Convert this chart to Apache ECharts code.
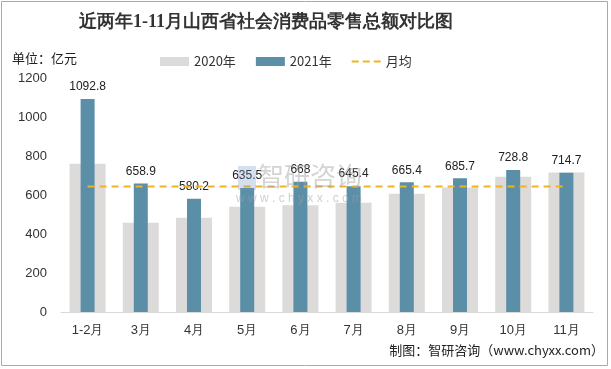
<!DOCTYPE html>
<html><head><meta charset="utf-8">
<script src="https://cdn.jsdelivr.net/npm/echarts@6/dist/echarts.min.js"></script>
<style>html,body{margin:0;padding:0;background:#fff}#c{width:611px;height:369px;}</style>
</head><body><div id="c"></div>
<script>
const categories = ['1-2月','3月','4月','5月','6月','7月','8月','9月','10月','11月'];
const values2020 = [760, 458, 483, 540, 547, 560, 607, 639, 694, 716];
const values2021 = [1092.8, 658.9, 580.2, 635.5, 668, 645.4, 665.4, 685.7, 728.8, 714.7];
const monthlyAvg = [643.2, 643.2, 643.2, 643.2, 643.2, 643.2, 643.2, 643.2, 643.2, 643.2];
const yTicks = [0, 200, 400, 600, 800, 1000, 1200];

const chart = echarts.init(document.getElementById('c'));
chart.setOption({
  animation: false,
  backgroundColor: '#fff',
  title: {
    text: '近两年1-11月山西省社会消费品零售总额对比图',
    left: 261, top: 8, textAlign: 'center',
    textStyle: { fontFamily: 'serif', fontSize: 18, fontWeight: 'bold', color: '#333' }
  },
  graphic: [
    { type: 'rect', shape: { x: 1.5, y: 1.5, width: 606, height: 364 }, style: { fill: 'none', stroke: '#aaa', lineWidth: 1 } },
    { type: 'text', left: 12, top: 52, style: { text: '单位：亿元', font: '13px "Noto Sans CJK SC"', fill: '#222' } },
    { type: 'text', right: 7, top: 344, style: { text: '制图：智研咨询（www.chyxx.com）', font: '13px "Noto Sans CJK SC"', fill: '#222' } },
    { type: 'text', left: 258, top: 163, z: 20, style: { text: '智研咨询', font: '26px "Noto Sans CJK SC"', fill: 'rgba(160,160,160,0.45)' } },
    { type: 'text', left: 236, top: 193, z: 20, style: { text: 'w w w . c h y x x . c o m', font: '12px sans-serif', fill: 'rgba(160,160,160,0.5)' } },
    { type: 'rect', left: 238, top: 166, z: 20, shape: { width: 18, height: 24 }, style: { fill: 'rgba(120,150,200,0.3)' } }
  ],
  legend: {
    top: 50, left: 155, itemGap: 20, itemWidth: 29, itemHeight: 9,
    textStyle: { fontSize: 13, color: '#333', fontFamily: 'Noto Sans CJK SC' },
    data: [
      { name: '2020年', icon: 'rect' },
      { name: '2021年', icon: 'rect' },
      { name: '月均', icon: 'path://M0,0h7v2h-7z M11,0h7v2h-7z M22,0h7v2h-7z', itemStyle: { color: '#f0b323' } }
    ]
  },
  grid: { left: 61, right: 18, top: 78, bottom: 57 },
  xAxis: [{
    type: 'category', data: categories,
    axisLine: { lineStyle: { color: '#d9d9d9' } },
    axisTick: { show: false },
    axisLabel: { fontSize: 13, color: '#333', margin: 12 }
  }, {
    type: 'category', data: categories, show: false
  }],
  yAxis: {
    type: 'value', min: 0, max: 1200, interval: 200,
    splitLine: { show: false },
    axisLine: { show: false }, axisTick: { show: false },
    axisLabel: { fontSize: 13, color: '#333', margin: 14, formatter: v => String(v) }
  },
  series: [
    { name: '2020年', type: 'bar', data: values2020, barWidth: 36, xAxisIndex: 0,
      itemStyle: { color: '#dddada' } },
    { name: '2021年', type: 'bar', data: values2021, barWidth: 14, z: 3, xAxisIndex: 1,
      itemStyle: { color: '#5b8fa8' },
      label: { show: true, position: 'top', distance: 6, fontSize: 12, color: '#222' } },
    { name: '月均', type: 'line', data: monthlyAvg, symbol: 'none', z: 4, xAxisIndex: 0,
      lineStyle: { color: '#f0b323', width: 2, type: [7, 5] },
      itemStyle: { color: '#f0b323' } }
  ]
});
</script></body></html>
